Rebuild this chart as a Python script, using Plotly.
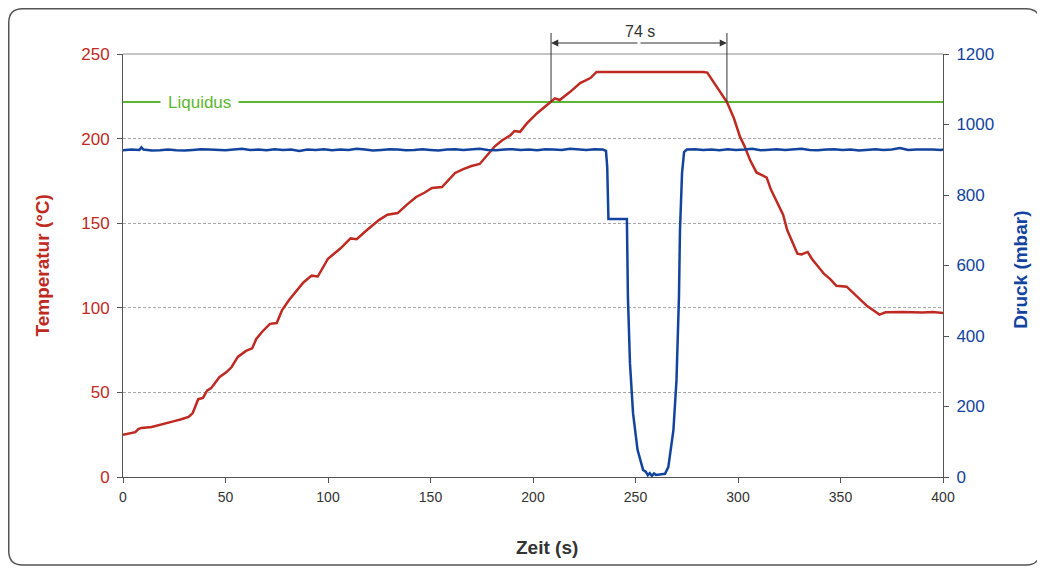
import plotly.graph_objects as go

# ---------------- data ----------------
temp_time = [0, 3, 6, 7.5, 9, 14, 18, 21, 25, 28, 32, 34, 35.5, 36.7, 39, 41, 43, 45, 47, 50.5,
             53, 56, 58, 60, 63, 65, 68, 71.7, 75, 77.6, 81, 85, 88, 92, 95, 100, 103, 106, 111, 114,
             119, 125, 129, 134, 138.5, 143, 147, 150.7, 155.6, 162, 166, 170, 174, 177.5, 181.5, 185,
             189, 191, 193.7, 197, 202, 208, 210.7, 213, 218, 223, 228, 231, 240, 250, 260, 270, 283,
             285, 289, 294.6, 298, 301, 303, 306, 309, 314, 316, 319, 322, 324, 327, 329, 331, 334,
             336, 338.5, 342, 345, 348, 353, 356, 359.5, 363, 366, 369, 372, 380, 390, 395, 400]
temp_vals = [25, 25.8, 26.5, 28.3, 29, 29.6, 31, 32, 33, 34, 35.5, 37.8, 42, 46, 46.7, 51, 52.5, 55.5, 59, 62,
             65, 71, 72.5, 74.5, 76, 81.6, 86, 90.5, 91, 98.7, 104.6, 110.5, 115, 119, 118.5, 129, 132, 135, 141, 140.5,
             146, 152, 155, 156, 161, 165.5, 168, 170.8, 171.4, 179.7, 182, 183.8, 185, 190, 195.6, 199,
             202, 204.5, 204, 209, 215, 221, 223.8, 222.8, 227.5, 232.8, 235.8, 239.4, 239.4, 239.6, 239.3, 239.5, 239.4,
             239, 232, 221.6, 212, 201, 196, 187, 180, 177, 170, 162, 155, 146, 137, 132, 131.5, 133,
             129, 125, 120, 117, 113, 112.5, 109, 104.6, 101, 98.5, 96, 97.3, 97.5, 97.2, 97.5, 97]

pres_time = [0, 4, 8, 9, 10, 14, 18, 22, 26, 30, 34, 38, 42, 46, 50, 54, 58, 62, 66, 70, 74, 78, 82, 86,
             90, 94, 98, 102, 106, 110, 114, 118, 122, 126, 130, 134, 138, 142, 146, 150, 154, 158, 162,
             166, 170, 174, 178, 182, 186, 190, 194, 198, 202, 206, 210, 214, 218, 222, 226, 230, 234, 235.6,
             236.2, 236.8, 245.8, 246.3, 247.3, 248.8, 251, 253.7, 255, 256, 257, 258, 259, 260, 262, 264.4,
             266, 268.5, 270, 271.2, 271.7, 272.7, 273.7, 275, 279, 283, 287, 291, 295, 299, 303, 307, 311,
             315, 319, 323, 327, 331, 335, 339, 343, 347, 351, 355, 359, 363, 367, 371, 375, 379, 383, 387,
             391, 395, 399, 400]
pres_vals = [927, 929, 928, 935, 929, 926, 927, 929, 927, 926, 928, 930, 929, 928, 927, 929, 931, 928, 929, 927,
             930, 928, 929, 925, 929, 928, 930, 927, 929, 928, 931, 929, 926, 928, 930, 929, 927, 928, 930, 928,
             926, 929, 930, 928, 929, 931, 928, 927, 929, 930, 928, 929, 927, 930, 929, 928, 931, 929, 928, 930,
             929, 925,
             880, 732, 732, 511, 323, 181, 77, 20, 15, 5, 11, 3, 10, 6, 8, 9,
             28, 133, 275, 511, 700, 862, 922, 929, 930, 928, 929, 927, 930, 928, 929, 931, 927,
             929, 930, 928, 929, 931, 928, 927, 929, 930, 928, 929, 926, 929, 930, 928, 929, 933, 928,
             929, 930, 929, 928, 929]

liquidus_temp = 221.6
liquidus_label = "Liquidus"
span_times = [208.8, 294.6]
span_label = "74 s"

x_ticks = [0, 50, 100, 150, 200, 250, 300, 350, 400]
x_range = [0, 400]
t_range = [0, 250]
p_range = [0, 1200]

RED = "#BE2A22"
BLUE = "#12449E"
GREEN = "#5DB632"
DARK = "#333333"
FONT = "Liberation Sans, Arial, sans-serif"

# figure sits at an 8px page offset
FIG_W, FIG_H = 1037, 561
ML, MR, MT, MB = 115, 102, 46, 92
W_PLOT = FIG_W - ML - MR
H_PLOT = FIG_H - MT - MB

fig = go.Figure()

fig.add_trace(go.Scatter(x=x_range, y=[liquidus_temp, liquidus_temp], mode="lines",
                         line=dict(color=GREEN, width=2), hoverinfo="skip", showlegend=False))
fig.add_trace(go.Scatter(x=pres_time, y=pres_vals, mode="lines", yaxis="y2",
                         line=dict(color=BLUE, width=2.5), showlegend=False))
fig.add_trace(go.Scatter(x=temp_time, y=temp_vals, mode="lines",
                         line=dict(color=RED, width=2.5), showlegend=False))


def px_x(t):
    return (t - x_range[0]) / (x_range[1] - x_range[0])


def px_y(v):
    return (v - t_range[0]) / (t_range[1] - t_range[0])


arrow_y = 1 + 11 / H_PLOT
vline_top = 1 + 21 / H_PLOT
label_y = 1 + 22 / H_PLOT

shapes = []
shapes.append(dict(type="line", xref="paper", yref="paper", x0=0, x1=1, y0=1, y1=1,
                   line=dict(color="#8a8a8a", width=1)))
for t in span_times:
    shapes.append(dict(type="line", xref="paper", yref="paper", x0=px_x(t), x1=px_x(t),
                       y0=px_y(liquidus_temp), y1=vline_top, line=dict(color=DARK, width=1)))
# rounded outer border (figure pixel coords -> paper)
bx0, bx1, by_top, by_bot = 0.75, 1032, 0.75, 557
x0, x1 = (bx0 - ML) / W_PLOT, (bx1 - ML) / W_PLOT
y1, y0 = (FIG_H - MB - by_top) / H_PLOT, (FIG_H - MB - by_bot) / H_PLOT
rx, ry = 14 / W_PLOT, 14 / H_PLOT
path = (f"M {x0+rx},{y1} L {x1-rx},{y1} Q {x1},{y1} {x1},{y1-ry} L {x1},{y0+ry} "
        f"Q {x1},{y0} {x1-rx},{y0} L {x0+rx},{y0} Q {x0},{y0} {x0},{y0+ry} "
        f"L {x0},{y1-ry} Q {x0},{y1} {x0+rx},{y1} Z")
shapes.append(dict(type="path", xref="paper", yref="paper", path=path,
                   line=dict(color="#555555", width=1.5)))

mid = (span_times[0] + span_times[1]) / 2
annotations = [
    dict(x=37.5, y=liquidus_temp, xref="x", yref="y", text=liquidus_label, showarrow=False,
         xanchor="center", yanchor="middle",
         font=dict(family=FONT, size=17, color=GREEN), bgcolor="white", borderpad=7),
    dict(x=mid + 0.5, y=label_y, xref="x", yref="paper", text=span_label, showarrow=False,
         xanchor="center", yanchor="middle",
         font=dict(family=FONT, size=16, color=DARK)),
    dict(x=span_times[0], y=arrow_y, xref="x", yref="paper", ax=mid, ay=0, axref="x", ayref="pixel",
         text="", showarrow=True, arrowhead=2, arrowsize=1.2, arrowwidth=1.2, arrowcolor=DARK),
    dict(x=span_times[1], y=arrow_y, xref="x", yref="paper", ax=mid, ay=0, axref="x", ayref="pixel",
         text="", showarrow=True, arrowhead=2, arrowsize=1.2, arrowwidth=1.2, arrowcolor=DARK),
    dict(x=-81 / W_PLOT, y=0.5, xref="paper", yref="paper", text="<b>Temperatur (°C)</b>",
         xanchor="center", yanchor="middle",
         textangle=-90, showarrow=False, font=dict(family=FONT, size=19, color=RED)),
    dict(x=898 / W_PLOT, y=0.49, xref="paper", yref="paper", text="<b>Druck (mbar)</b>",
         xanchor="center", yanchor="middle",
         textangle=-90, showarrow=False, font=dict(family=FONT, size=19, color=BLUE)),
    dict(x=424 / W_PLOT, y=-70 / H_PLOT, xref="paper", yref="paper", text="<b>Zeit (s)</b>",
         xanchor="center", yanchor="middle",
         showarrow=False, font=dict(family=FONT, size=19, color=DARK)),
]

fig.update_layout(
    width=FIG_W, height=FIG_H,
    margin=dict(l=ML, r=MR, t=MT, b=MB),
    paper_bgcolor="white", plot_bgcolor="white",
    showlegend=False,
    font=dict(family=FONT),
    xaxis=dict(range=x_range, tickvals=x_ticks, ticks="outside", ticklen=5, tickcolor="#555",
               showline=True, linecolor="#555", linewidth=1, showgrid=False, zeroline=False,
               ticklabelstandoff=2,
               tickfont=dict(family=FONT, size=14, color=DARK)),
    yaxis=dict(range=t_range, dtick=50, ticks="outside", ticklen=5, tickcolor="#555",
               showline=True, linecolor="#555", linewidth=1, zeroline=False,
               showgrid=True, gridcolor="#a8a8a8", griddash="3px,2px", gridwidth=1,
               ticklabelstandoff=4,
               tickfont=dict(family=FONT, size=17, color=RED)),
    yaxis2=dict(range=p_range, dtick=200, overlaying="y", side="right", ticks="outside", ticklen=5,
                tickcolor="#555", showline=True, linecolor="#555", linewidth=1, showgrid=False,
                zeroline=False, ticklabelstandoff=4,
                tickfont=dict(family=FONT, size=17, color=BLUE)),
    shapes=shapes,
    annotations=annotations,
)

fig.write_html("out.html")
